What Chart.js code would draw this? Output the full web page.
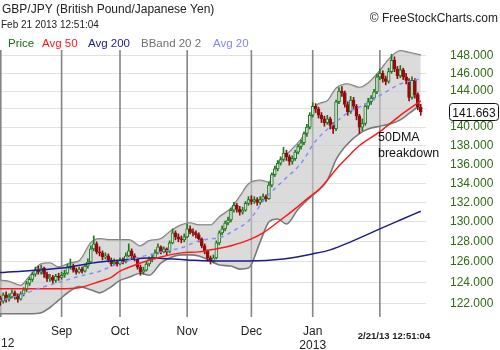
<!DOCTYPE html>
<html>
<head>
<meta charset="utf-8">
<script src="https://cdn.jsdelivr.net/npm/chart.js@4.4.1/dist/chart.umd.min.js"></script>
<style>
  html, body { margin: 0; padding: 0; background: #ffffff; }
  #wrap { width: 500px; height: 350px; position: relative; }
</style>
</head>
<body>
<div id="wrap"><canvas id="c" width="500" height="350"></canvas></div>
<script>
// Trading-day index of the first bar (Sep 3 2012 = day 0, weekdays only)
const FIRST_DAY = -22;

// Daily GBP/JPY candles, Aug 2 2012 .. Feb 21 2013
const OPEN = [
  122.8,122.5,122.2,122.8,122.4,122.6,123.0,122.7,122.4,122.9,
  123.3,123.9,124.3,124.8,125.2,125.0,125.4,124.8,124.4,124.5,
  124.2,124.6,124.5,124.7,124.9,125.5,125.6,125.2,125.0,125.3,
  125.1,125.6,126.0,127.3,127.8,127.0,126.9,126.5,126.6,126.2,
  125.8,126.0,125.8,126.2,126.0,126.6,127.1,126.6,126.3,125.5,
  125.0,125.2,125.8,126.3,126.4,126.9,127.5,127.0,127.3,127.0,
  127.9,128.9,128.5,128.3,128.2,128.5,129.3,129.0,128.9,128.7,
  128.3,127.6,127.1,126.4,126.1,126.4,127.9,128.9,129.3,129.9,
  130.2,131.2,131.7,131.3,131.0,131.2,131.9,132.3,132.1,132.3,
  132.0,132.3,132.6,132.4,133.8,134.9,135.5,136.1,136.5,137.2,
  136.8,136.3,136.6,137.3,137.9,138.3,139.3,140.0,141.3,142.3,
  142.0,141.3,140.9,140.5,140.9,140.2,139.8,142.8,144.0,143.8,
  142.5,141.7,143.0,142.3,141.2,140.0,140.4,142.3,142.8,143.2,
  143.9,145.6,146.0,145.4,145.1,146.2,147.5,146.5,145.7,146.4,
  145.6,145.2,143.3,145.2,143.6,142.2
];
const HIGH = [
  123.1,122.7,123.0,123.1,122.9,123.3,123.2,122.9,123.1,123.5,
  124.1,124.5,125.0,125.5,125.6,125.7,125.5,125.0,124.8,124.7,
  124.8,124.9,125.0,125.2,125.8,126.3,125.8,125.4,125.5,125.5,
  125.8,126.3,127.6,128.6,128.0,127.5,127.1,126.9,126.8,126.4,
  126.3,126.2,126.4,126.4,126.9,127.8,127.3,126.8,126.4,125.7,
  125.5,126.0,126.5,126.7,127.2,127.8,127.6,127.5,127.4,128.1,
  129.3,129.1,128.8,128.6,128.8,129.8,129.6,129.3,129.1,128.9,
  128.4,127.8,127.2,126.6,126.7,128.1,129.1,129.6,130.1,130.5,
  131.4,132.0,131.9,131.6,131.5,132.1,132.6,132.7,132.6,132.5,
  132.6,132.9,132.8,134.1,135.1,135.8,136.4,136.8,137.8,137.5,
  137.0,136.9,137.5,138.1,138.6,139.5,140.3,141.6,142.7,142.6,
  142.2,141.6,141.2,141.3,141.1,140.5,143.0,144.4,144.5,144.0,
  142.8,143.4,143.3,142.5,141.4,140.9,142.6,143.2,143.5,144.2,
  145.9,146.5,146.3,145.7,146.6,148.2,147.9,146.8,146.9,146.6,
  146.0,145.4,145.6,145.4,143.8,142.5
];
const LOW = [
  122.2,121.8,122.0,122.1,122.2,122.5,122.4,122.1,122.3,122.7,
  123.1,123.7,124.1,124.6,124.8,124.8,124.5,124.1,124.1,123.9,
  124.0,124.2,124.3,124.5,124.8,125.3,125.0,124.8,124.9,124.9,
  125.0,125.4,125.9,127.1,126.8,126.6,126.2,126.3,126.0,125.6,
  125.7,125.6,125.7,125.8,125.9,126.5,126.4,126.1,125.3,124.7,
  124.8,125.1,125.6,126.0,126.3,126.8,126.8,126.9,126.7,126.9,
  127.8,128.2,128.0,127.9,128.0,128.4,128.8,128.6,128.4,128.0,
  127.4,126.8,126.1,125.8,125.9,126.3,127.7,128.7,129.1,129.7,
  130.0,131.0,131.0,130.7,130.8,131.1,131.7,131.8,131.9,131.7,
  131.8,132.1,132.1,132.3,133.6,134.7,135.3,135.9,136.3,136.4,
  135.9,136.0,136.4,137.1,137.6,138.1,139.0,139.8,141.1,141.6,
  141.0,140.5,140.1,140.3,139.8,139.3,139.6,142.6,143.4,142.2,
  141.3,141.5,141.9,140.8,139.3,139.6,140.2,142.0,142.5,143.0,
  143.7,145.3,145.0,144.7,144.9,146.0,146.2,145.4,145.5,145.3,
  144.8,142.9,143.1,143.2,141.9,141.3
];
const CLOSE = [
  122.5,122.2,122.8,122.4,122.6,123.0,122.7,122.4,122.9,123.3,
  123.9,124.3,124.8,125.2,125.0,125.4,124.8,124.4,124.5,124.2,
  124.6,124.5,124.7,124.9,125.5,125.6,125.2,125.0,125.3,125.1,
  125.6,126.0,127.3,127.8,127.0,126.9,126.5,126.6,126.2,125.8,
  126.0,125.8,126.2,126.0,126.6,127.1,126.6,126.3,125.5,125.0,
  125.2,125.8,126.3,126.4,126.9,127.5,127.0,127.3,127.0,127.9,
  128.9,128.5,128.3,128.2,128.5,129.3,129.0,128.9,128.7,128.3,
  127.6,127.1,126.4,126.1,126.4,127.9,128.9,129.3,129.9,130.2,
  131.2,131.7,131.3,131.0,131.2,131.9,132.3,132.1,132.3,132.0,
  132.3,132.6,132.4,133.8,134.9,135.5,136.1,136.5,137.2,136.8,
  136.3,136.6,137.3,137.9,138.3,139.3,140.0,141.3,142.3,142.0,
  141.3,140.9,140.5,140.9,140.2,139.8,142.8,144.0,143.8,142.5,
  141.7,143.0,142.3,141.2,140.0,140.4,142.3,142.8,143.2,143.9,
  145.6,146.0,145.4,145.1,146.2,147.5,146.5,145.7,146.4,145.6,
  145.2,143.3,145.2,143.6,142.2,141.663
];

// 200-day simple moving average
const AVG200_DAY = [-22, 0, 13, 21, 30, 43, 51, 64, 76, 86, 92, 99, 109, 116, 123];
const AVG200     = [124.95, 125.4, 126.0, 126.2, 126.4, 126.2, 126.1, 126.1, 126.3, 126.8, 127.2, 128.0, 129.3, 130.2, 131.1];

// 50-day simple moving average
const AVG50_DAY = [-22, -1, 6, 13, 17, 20, 27, 34, 41, 47, 51, 58, 65, 69, 75, 81, 85, 88, 95, 99, 102, 109, 116, 123];
const AVG50     = [123.4, 123.4, 123.5, 124.1, 124.5, 125.1, 125.9, 126.5, 126.9, 127.0, 127.2, 127.6, 128.3, 128.9, 130.2, 131.6, 132.6, 133.3, 135.8, 137.1, 138.0, 139.5, 141.3, 142.9];

// 20-day simple moving average
const AVG20_DAY = [-22, -14, -7, -1, 6, 13, 20, 27, 34, 41, 47, 51, 54, 60, 64, 70, 76, 82, 87, 93, 99, 104, 110, 116, 123];
const AVG20     = [122.2, 122.8, 123.5, 124.0, 124.6, 125.1, 125.9, 126.5, 127.0, 127.4, 128.1, 128.3, 128.4, 129.3, 130.1, 132.5, 134.3, 136.1, 138.5, 140.3, 141.8, 142.5, 143.7, 144.8, 145.4];

// Bollinger band (20, 2)
const BAND_DAY = [-22, -18, -14, -11, -7, -4, -1, 3, 6, 10, 13, 16, 20, 23, 27, 30, 34, 37, 41, 44, 47,
                  51, 54, 58, 61, 64, 68, 71, 74, 77, 81, 84, 87, 91, 94, 98, 102, 105, 109, 112, 116, 119, 123];
const BAND_UP = [124.2, 124.1, 123.7, 124.6, 125.8, 125.9, 125.5, 125.9, 126.1, 127.9, 128.3, 128.2, 128.2, 128.2,
                 127.6, 128.1, 128.3, 129.0, 129.7, 129.9, 129.7, 129.7, 130.5, 131.4, 132.6, 133.9, 134.3, 134.1,
                 136.1, 137.0, 138.3, 139.6, 142.3, 142.9, 144.3, 144.8, 144.4, 144.9, 146.3, 147.6, 148.6, 148.4, 148.1];
const BAND_LO = [121.0, 121.0, 121.0, 121.0, 121.1, 121.6, 122.3, 123.2, 123.6, 123.3, 123.0, 123.4, 124.2, 124.5,
                 124.9, 124.7, 125.9, 126.4, 126.7, 126.7, 126.6, 126.1, 125.7, 125.6, 125.3, 125.4, 128.0, 130.0,
                 130.3, 129.8, 131.3, 132.2, 133.0, 134.3, 136.5, 138.2, 139.3, 139.8, 140.1, 140.3, 140.8, 141.5, 142.5];

// Axis ticks
const Y_TICKS = [122, 124, 126, 128, 130, 132, 134, 136, 138, 140, 142, 144, 146, 148];
const MONTH_DAYS = [0, 20, 43, 65, 86, 109];            // Sep, Oct, Nov, Dec, Jan, Feb first sessions
const MONTH_LABELS = ['Sep', 'Oct', 'Nov', 'Dec', ['Jan', '2013'], ''];

const X_MIN = -21.1, X_MAX = 124.8;
const Y_MIN = 120.7, Y_MAX = 149.16;

const UP_COLOR = '#1e7a1e';
const DOWN_COLOR = '#8e0e0e';
const BAND_FILL = 'rgba(200,200,200,0.65)';
const TICK_GREEN = '#2f6e12';
const FONT = "'Liberation Sans', Arial, sans-serif";

const pts = (days, vals) => days.map((d, k) => ({ x: d, y: vals[k] }));
const isUp = k => CLOSE[k] >= OPEN[k];

const wickData = CLOSE.map((c, k) => ({ x: FIRST_DAY + k, y: [LOW[k], HIGH[k]] }));
const bodyData = CLOSE.map((c, k) => ({ x: FIRST_DAY + k, y: [OPEN[k], CLOSE[k]] }));

const overlay = {
  id: 'overlay',
  beforeDatasetsDraw(chart) {
    const { ctx, chartArea, scales } = chart;
    ctx.save();
    ctx.strokeStyle = '#858585';
    ctx.lineWidth = 1.6;
    const lines = [chartArea.left + 0.8].concat(MONTH_DAYS.map(d => scales.x.getPixelForValue(d)));
    lines.forEach(px => {
      ctx.beginPath();
      ctx.moveTo(px, 50);
      ctx.lineTo(px, chartArea.bottom);
      ctx.stroke();
    });
    ctx.restore();
  },
  afterDraw(chart) {
    const { ctx, scales } = chart;
    ctx.save();
    ctx.textBaseline = 'alphabetic';

    // header
    ctx.fillStyle = '#222';
    ctx.font = '12px ' + FONT;
    ctx.textAlign = 'left';
    ctx.fillText('GBP/JPY (British Pound/Japanese Yen)', 2, 13);
    ctx.font = '10px ' + FONT;
    ctx.fillText('Feb 21 2013 12:51:04', 1, 28);
    ctx.font = '12px ' + FONT;
    ctx.textAlign = 'right';
    ctx.fillText('\u00A9 FreeStockCharts.com', 498, 22);

    // indicator key
    ctx.textAlign = 'left';
    ctx.font = '11.5px ' + FONT;
    const keys = [['Price', '#1a6b1a', 8], ['Avg 50', '#ff1a1a', 42], ['Avg 200', '#1c1c8c', 88],
                  ['BBand 20 2', '#707070', 141], ['Avg 20', '#8585ff', 213]];
    keys.forEach(([t, c, x]) => { ctx.fillStyle = c; ctx.fillText(t, x, 47); });

    // annotation
    ctx.fillStyle = '#111';
    ctx.font = '12.5px ' + FONT;
    ctx.fillText('50DMA', 378, 141);
    ctx.fillText('breakdown', 378, 157);

    // last price box
    const last = CLOSE[CLOSE.length - 1];
    const py = Math.round(scales.y.getPixelForValue(last));
    ctx.fillStyle = '#ffffff';
    ctx.strokeStyle = '#111';
    ctx.lineWidth = 1;
    ctx.beginPath();
    ctx.roundRect(449.5, py - 8.5, 49, 17, 3);
    ctx.fill();
    ctx.stroke();
    ctx.fillStyle = '#111';
    ctx.font = '12px ' + FONT;
    ctx.textAlign = 'center';
    ctx.fillText(last.toFixed(3), 474, py + 4.5);

    // year fragment and timestamp under the time axis
    ctx.fillStyle = '#222';
    ctx.textAlign = 'left';
    ctx.fillText('12', 1, 347);
    ctx.font = 'bold 9.5px ' + FONT;
    ctx.textAlign = 'center';
    ctx.fillText('2/21/13 12:51:04', 394, 339);
    ctx.restore();
  }
};

new Chart(document.getElementById('c'), {
  type: 'bar',
  data: {
    datasets: [
      { type: 'line', data: pts(BAND_DAY, BAND_UP), borderColor: '#7a7a7a', borderWidth: 1.6,
        pointRadius: 0, fill: false, cubicInterpolationMode: 'monotone', order: 10 },
      { type: 'line', data: pts(BAND_DAY, BAND_LO), borderColor: '#7a7a7a', borderWidth: 1.6,
        pointRadius: 0, fill: '-1', backgroundColor: BAND_FILL, cubicInterpolationMode: 'monotone', order: 9 },
      { type: 'bar', data: wickData, barThickness: 1, grouped: false,
        backgroundColor: CLOSE.map((c, k) => isUp(k) ? UP_COLOR : DOWN_COLOR), order: 6 },
      { type: 'bar', data: bodyData, barThickness: 3, grouped: false, borderWidth: 1, borderSkipped: false,
        backgroundColor: CLOSE.map((c, k) => isUp(k) ? '#dcdcdc' : DOWN_COLOR),
        borderColor: CLOSE.map((c, k) => isUp(k) ? UP_COLOR : DOWN_COLOR), order: 5 },
      { type: 'line', data: pts(AVG200_DAY, AVG200), borderColor: '#1c1c8c', borderWidth: 1.5,
        pointRadius: 0, fill: false, cubicInterpolationMode: 'monotone', order: 3 },
      { type: 'line', data: pts(AVG50_DAY, AVG50), borderColor: '#ff1a1a', borderWidth: 1.5,
        pointRadius: 0, fill: false, cubicInterpolationMode: 'monotone', order: 2 },
      { type: 'line', data: pts(AVG20_DAY, AVG20), borderColor: '#8c8cff', borderWidth: 1.5, borderDash: [4, 4],
        pointRadius: 0, fill: false, cubicInterpolationMode: 'monotone', order: 1 }
    ]
  },
  options: {
    responsive: false,
    animation: false,
    devicePixelRatio: 1,
    layout: { padding: { top: 46, left: 0, right: 0, bottom: 0 } },
    plugins: { legend: { display: false }, tooltip: { enabled: false } },
    scales: {
      x: {
        type: 'linear', min: X_MIN, max: X_MAX, offset: false,
        grid: { display: false }, border: { display: false },
        afterBuildTicks: s => { s.ticks = MONTH_DAYS.slice(0, 5).map(v => ({ value: v })); },
        afterFit: s => { s.height = 33; },
        ticks: {
          autoSkip: false, maxRotation: 0, padding: 0, color: '#222',
          font: { family: FONT, size: 12, lineHeight: 1.15 },
          callback: v => MONTH_LABELS[MONTH_DAYS.indexOf(v)]
        }
      },
      y: {
        type: 'logarithmic', position: 'right', min: Y_MIN, max: Y_MAX,
        grid: { color: '#e2e2e2', lineWidth: 1, drawTicks: false }, border: { display: false },
        afterBuildTicks: s => { s.ticks = Y_TICKS.map(v => ({ value: v })); },
        afterFit: s => { s.width = 74; },
        ticks: {
          padding: 24, color: TICK_GREEN, font: { family: FONT, size: 12 },
          callback: v => Number(v).toFixed(3)
        }
      }
    }
  },
  plugins: [overlay]
});
</script>
</body>
</html>
